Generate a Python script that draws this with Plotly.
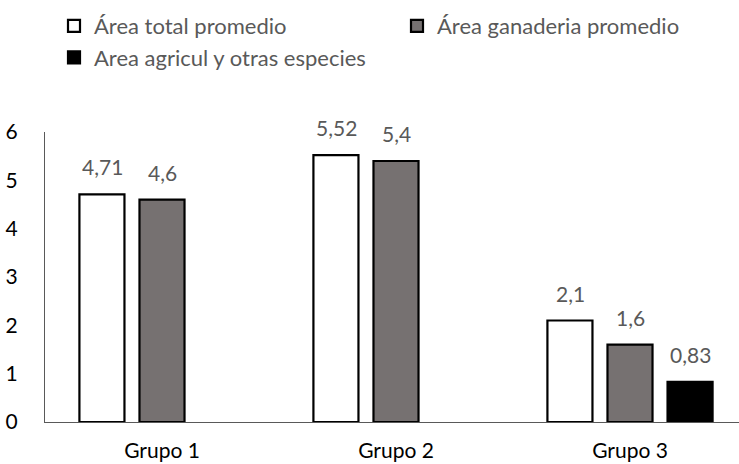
import plotly.graph_objects as go

categories = ["Grupo 1", "Grupo 2", "Grupo 3"]
series_names = ["Área total promedio", "Área ganaderia promedio", "Area agricul y otras especies"]
total_vals = [4.71, 5.52, 2.1]
ganaderia_vals = [4.6, 5.4, 1.6]
agricul_vals = [None, None, 0.83]
y_ticks = [0, 1, 2, 3, 4, 5, 6]

fills = ["#FFFFFF", "#767171", "#000000"]
FONT = "Lato"
W, H = 739, 464
L, R, T, B = 45, 0, 132, 42

fig = go.Figure()
all_vals = [total_vals, ganaderia_vals, agricul_vals]
for name, vals, col in zip(series_names, all_vals, fills):
    fig.add_trace(go.Bar(
        x=categories, y=vals, name=name,
        marker=dict(color=col, line=dict(color="#000000", width=2.2)),
        hoverinfo="skip",
    ))

# data labels
slot_px = 60
for i, vals in enumerate(all_vals):
    for cat, v in zip(categories, vals):
        if v is None:
            continue
        fig.add_annotation(
            x=cat, y=v, xref="x", yref="y",
            text=str(v).replace(".", ","),
            showarrow=False, xshift=(i - 1) * slot_px, yshift=13,
            yanchor="bottom",
            font=dict(family=FONT, size=21, color="#595959"),
        )

cat_px = 234
plot_w = W - L - R
x_max = -0.5 + plot_w / cat_px

fig.update_layout(
    width=W, height=H,
    margin=dict(l=L, r=R, t=T, b=B, pad=0, autoexpand=False),
    paper_bgcolor="white", plot_bgcolor="white",
    barmode="group", bargap=0.23, bargroupgap=0.25,
    font=dict(family=FONT, size=21, color="#000000"),
    showlegend=True,
    legend=dict(
        orientation="h", xref="container", yref="container",
        x=54 / W, y=1 - 5 / H, xanchor="left", yanchor="top",
        font=dict(family=FONT, size=22, color="#595959"),
        entrywidth=298, entrywidthmode="pixels",
        traceorder="normal", itemwidth=30,
        bgcolor="rgba(0,0,0,0)", tracegroupgap=0,
    ),
    xaxis=dict(
        range=[-0.5, x_max], showgrid=False, zeroline=False,
        showline=True, linecolor="#595959", linewidth=1,
        ticks="", tickfont=dict(family=FONT, size=21, color="#000000"),
        ticklabelstandoff=10, fixedrange=True, automargin=False,
    ),
    yaxis=dict(
        range=[0, 6], tickvals=y_ticks, showgrid=False, zeroline=False,
        showline=True, linecolor="#595959", linewidth=1,
        ticks="", tickfont=dict(family=FONT, size=21, color="#000000"),
        ticklabelstandoff=22, fixedrange=True, automargin=False,
    ),
)

fig.write_html(
    "out.html",
    config={"displayModeBar": False, "staticPlot": True},
    post_script="document.body.style.margin='0';document.body.style.overflow='hidden';",
)
